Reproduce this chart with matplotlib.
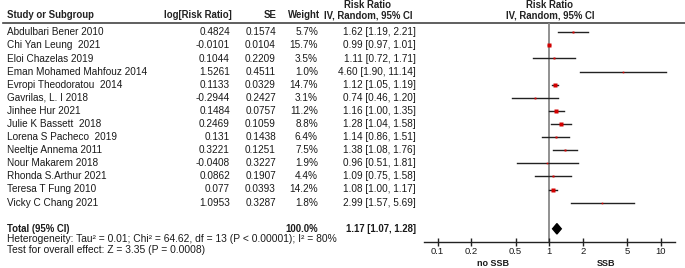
import numpy as np
import matplotlib
matplotlib.use("Agg")
from matplotlib import pyplot as plt

studies = ["Abdulbari Bener 2010", "Chi Yan Leung  2021", "Eloi Chazelas 2019",
           "Eman Mohamed Mahfouz 2014", "Evropi Theodoratou  2014", "Gavrilas, L. I 2018",
           "Jinhee Hur 2021", "Julie K Bassett  2018", "Lorena S Pacheco  2019",
           "Neeltje Annema 2011", "Nour Makarem 2018", "Rhonda S.Arthur 2021",
           "Teresa T Fung 2010", "Vicky C Chang 2021"]
log_rr = ["0.4824", "-0.0101", "0.1044", "1.5261", "0.1133", "-0.2944", "0.1484",
          "0.2469", "0.131", "0.3221", "-0.0408", "0.0862", "0.077", "1.0953"]
se = ["0.1574", "0.0104", "0.2209", "0.4511", "0.0329", "0.2427", "0.0757",
      "0.1059", "0.1438", "0.1251", "0.3227", "0.1907", "0.0393", "0.3287"]
weight = [5.7, 15.7, 3.5, 1.0, 14.7, 3.1, 11.2, 8.8, 6.4, 7.5, 1.9, 4.4, 14.2, 1.8]
rr = [1.62, 0.99, 1.11, 4.60, 1.12, 0.74, 1.16, 1.28, 1.14, 1.38, 0.96, 1.09, 1.08, 2.99]
ci_lo = [1.19, 0.97, 0.72, 1.90, 1.05, 0.46, 1.00, 1.04, 0.86, 1.08, 0.51, 0.75, 1.00, 1.57]
ci_hi = [2.21, 1.01, 1.71, 11.14, 1.19, 1.20, 1.35, 1.58, 1.51, 1.76, 1.81, 1.58, 1.17, 5.69]
total_weight = "100.0%"
total_rr, total_lo, total_hi = 1.17, 1.07, 1.28
heterogeneity = "Heterogeneity: Tau² = 0.01; Chi² = 64.62, df = 13 (P < 0.00001); I² = 80%"
overall = "Test for overall effect: Z = 3.35 (P = 0.0008)"
ticks = [0.1, 0.2, 0.5, 1, 2, 5, 10]
tick_labels = ["0.1", "0.2", "0.5", "1", "2", "5", "10"]

W, H = 685, 268
plt.rcParams['font.family'] = ['Liberation Sans', 'DejaVu Sans']
fig = plt.figure(figsize=(W / 100, H / 100), dpi=100)

# text layer in pixel coordinates
tab = fig.add_axes([0, 0, 1, 1])
tab.set_xlim(0, W)
tab.set_ylim(H, 0)
tab.axis("off")

fs_bold = 6.9
fs = 7.2
txt = "#1a1a1a"
row0, step = 32.3, 13.1


def row_y(i):
    return row0 + step * i


# headers
hdr = dict(fontsize=fs_bold, fontweight="bold", color="#222222", va="center")
tab.text(6.7, 15, "Study or Subgroup", ha="left", **hdr)
tab.text(232, 15, "log[Risk Ratio]", ha="right", **hdr)
tab.text(277, 15, "SE", ha="right", **hdr)
tab.text(320, 15, "Weight", ha="right", **hdr)
tab.text(368, 5, "Risk Ratio", ha="center", **hdr)
tab.text(368, 15, "IV, Random, 95% CI", ha="center", **hdr)
tab.text(550, 5, "Risk Ratio", ha="center", **hdr)
tab.text(550, 15, "IV, Random, 95% CI", ha="center", **hdr)
tab.plot([3, W], [22.7, 22.7], color="#444444", lw=1.2)

for i, name in enumerate(studies):
    y = row_y(i)
    tab.text(6.7, y, name, ha="left", va="center", fontsize=fs, color=txt)
    tab.text(230, y, log_rr[i], ha="right", va="center", fontsize=fs, color=txt)
    tab.text(276, y, se[i], ha="right", va="center", fontsize=fs, color=txt)
    tab.text(318, y, f"{weight[i]:.1f}%", ha="right", va="center", fontsize=fs, color=txt)
    tab.text(415.7, y, f"{rr[i]:.2f} [{ci_lo[i]:.2f}, {ci_hi[i]:.2f}]",
             ha="right", va="center", fontsize=fs, color=txt)

yt = row_y(15)
tab.text(6.7, yt, "Total (95% CI)", ha="left", va="center", fontsize=fs_bold,
         fontweight="bold", color=txt)
tab.text(318, yt, total_weight, ha="right", va="center", fontsize=fs_bold,
         fontweight="bold", color=txt)
tab.text(415.7, yt, f"{total_rr:.2f} [{total_lo:.2f}, {total_hi:.2f}]", ha="right",
         va="center", fontsize=fs_bold, fontweight="bold", color=txt)
tab.text(6.7, 238.6, heterogeneity, ha="left", va="center", fontsize=7.4, color=txt)
tab.text(6.7, 249.6, overall, ha="left", va="center", fontsize=7.4, color=txt)
tab.text(493, 263.5, "no SSB", ha="center", va="center", fontsize=6.5,
         fontweight="bold", color=txt)
tab.text(606, 263.5, "SSB", ha="center", va="center", fontsize=6.5,
         fontweight="bold", color=txt)

# forest plot
x0, x1 = 424, 675
ytop, ybot = 22.7, 241.7
ax = fig.add_axes([x0 / W, 1 - ybot / H, (x1 - x0) / W, (ybot - ytop) / H])
ax.patch.set_alpha(0)
ax.set_xscale("log")
px_per_dec = 111.7
lx1 = 549.3
ax.set_xlim(10 ** ((x0 - lx1) / px_per_dec), 10 ** ((x1 - lx1) / px_per_dec))
ax.set_ylim((ybot - row0) / step, (ytop - row0) / step)

ax.axvline(1, color="#888888", lw=1.3, zorder=1)
for i in range(len(studies)):
    ax.plot([ci_lo[i], ci_hi[i]], [i, i], color="#222222", lw=1.0, zorder=2)
    side = max(1.6, 4.2 * np.sqrt(weight[i] / max(weight)))
    ax.plot(rr[i], i, marker="s", ms=side * 0.72, color="#d40000", mec="none", zorder=3)

dh = 5.2 / step
ax.fill([total_lo, total_rr, total_hi, total_rr], [15, 15 - dh, 15, 15 + dh],
        color="black", zorder=3)

for s in ["top", "left", "right"]:
    ax.spines[s].set_visible(False)
ax.spines["bottom"].set_color("#222222")
ax.spines["bottom"].set_linewidth(1.0)
ax.set_yticks([])
ax.set_xticks(ticks)
ax.set_xticklabels(tick_labels)
ax.minorticks_off()
ax.tick_params(axis="x", direction="inout", length=6, width=1.0, color="#222222",
               labelsize=6.8, labelcolor=txt, pad=1)

fig.savefig("out.png", dpi=100)
